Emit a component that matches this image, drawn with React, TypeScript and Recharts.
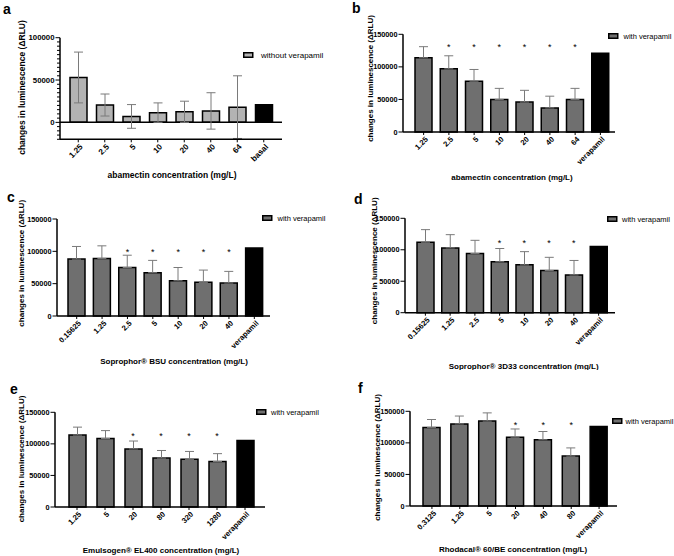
import React from "react";
import { BarChart, Bar, XAxis, YAxis, ErrorBar, Cell, ReferenceLine, ReferenceDot, Legend } from "recharts";

const FONT = "Liberation Sans, Arial, sans-serif";

// panel a
const catsA = ["1.25", "2.5", "5", "10", "20", "40", "64", "basal"];
const meanA = [53000, 20500, 7000, 11500, 12500, 13500, 18000, 20800];
const errA = [30000, 13000, 14000, 11500, 12500, 21500, 37000, null];
const starA = [true, false, false, false, false, false, false, false];
const ticksA = [-20000, -15000, -10000, -5000, 0, 5000, 10000, 15000, 20000, 25000, 30000, 35000, 40000, 45000, 50000, 55000, 60000, 65000, 70000, 75000, 80000, 85000, 90000, 95000, 100000];
const majorA = [0, 50000, 100000];

// panel b
const catsB = ["1.25", "2.5", "5", "10", "20", "40", "64", "verapamil"];
const meanB = [114000, 97000, 78000, 50000, 46000, 37000, 50000, 121000];
const errB = [17000, 20000, 18000, 17000, 18000, 18000, 17000, null];
const starB = [false, true, true, true, true, true, true, false];

// panel c
const catsC = ["0.15625", "1.25", "2.5", "5", "10", "20", "40", "verapamil"];
const meanC = [88000, 89000, 75000, 67000, 54500, 52000, 51000, 105000];
const errC = [19500, 19500, 19000, 19000, 20500, 19000, 18000, null];
const starC = [false, false, true, true, true, true, true, false];

// panel d
const catsD = ["0.15625", "1.25", "2.5", "5", "10", "20", "40", "verapamil"];
const meanD = [112000, 103000, 94000, 81000, 76000, 67000, 60000, 105000];
const errD = [20000, 21000, 21000, 21000, 21000, 21000, 23000, null];
const starD = [false, false, false, true, true, true, true, false];

// panel e
const catsE = ["1.25", "5", "20", "80", "320", "1280", "verapamil"];
const meanE = [114000, 108500, 92000, 77500, 75500, 72000, 105500];
const errE = [12500, 12500, 12500, 12000, 12500, 12500, null];
const starE = [false, false, true, true, true, true, false];

// panel f
const catsF = ["0.3125", "1.25", "5", "20", "40", "80", "verapamil"];
const meanF = [124500, 130000, 134500, 109000, 105000, 79000, 126000];
const errF = [12500, 12500, 13000, 13000, 13000, 13000, null];
const starF = [false, false, false, true, true, true, false];

const ticksBF = [0, 50000, 100000, 150000];
const yLabel = "changes in luminescence (\u0394RLU)";

type PanelProps = {
  cats: string[];
  means: number[];
  errs: (number | null)[];
  stars: boolean[];
  starLevel: number;
  symmetric: boolean;
  domain: [number, number];
  ticks: number[];
  majors: number[];
  L: number; T: number; W: number; H: number;
  x0: number; x1: number; y0: number; y1: number;
  padL: number; padR: number;
  fill: string;
  fs: number;
  xTitle: string; titleX: number; titleY: number;
  labelX: number; labelY: number;
  legendText: string; legX: number; legY: number; legTextX: number;
  zeroLine?: boolean;
};

function Panel(p: PanelProps) {
  const rows = p.cats.map((c, i) => ({
    cat: c,
    mean: p.means[i],
    err: p.errs[i] == null ? null : p.symmetric ? p.errs[i] : [0, p.errs[i]],
  }));
  const axisX = p.x0 - p.L;
  const tickFs = p.fs - 0.7;

  const yTick = (t: any) => {
    const v = t.payload.value;
    const y = t.payload.coordinate ?? t.y;
    const major = p.majors.includes(v);
    return (
      <g>
        <line x1={axisX - (major ? 4.5 : 3)} x2={axisX} y1={y} y2={y} stroke="#000" strokeWidth={1} />
        {major && (
          <text x={axisX - 5.5} y={y} dy="0.35em" textAnchor="end" fontSize={tickFs} fontWeight="bold" fontFamily={FONT} fill="#000">
            {v}
          </text>
        )}
      </g>
    );
  };

  return (
    <div style={{ position: "absolute", left: p.L, top: p.T }}>
      <BarChart
        width={p.W}
        height={p.H}
        data={rows}
        margin={{ top: p.y0 - p.T, right: p.L + p.W - p.x1, bottom: 0, left: 0 }}
      >
        <XAxis
          dataKey="cat"
          type="category"
          interval={0}
          height={p.T + p.H - p.y1}
          padding={{ left: p.padL, right: p.padR }}
          axisLine={{ stroke: "#000", strokeWidth: 1.5 }}
          tickLine={{ stroke: "#000", strokeWidth: 1 }}
          tickSize={3}
          tickMargin={1}
          angle={-45}
          textAnchor="end"
          tick={{ fontSize: tickFs + 0.3, fontWeight: "bold", fontFamily: FONT, fill: "#000", textAnchor: "end", dx: 1 }}
          label={{
            content: () => (
              <text x={p.titleX - p.L} y={p.titleY - p.T} textAnchor="middle" fontSize={p.fs} fontWeight="bold" fontFamily={FONT} fill="#000">
                {p.xTitle}
              </text>
            ),
          }}
        />
        <YAxis
          type="number"
          width={axisX}
          domain={p.domain}
          ticks={p.ticks}
          interval={0}
          axisLine={{ stroke: "#000", strokeWidth: 1.5 }}
          tickLine={false}
          tick={yTick}
          label={{
            content: () => (
              <text
                x={p.labelX - p.L}
                y={p.labelY - p.T}
                textAnchor="middle"
                dominantBaseline="central"
                transform={`rotate(-90 ${p.labelX - p.L} ${p.labelY - p.T})`}
                fontSize={p.fs}
                fontWeight="bold"
                fontFamily={FONT}
                fill="#000"
              >
                {yLabel}
              </text>
            ),
          }}
        />
        {p.zeroLine && <ReferenceLine y={0} stroke="#000" strokeWidth={1.5} />}
        <Bar dataKey="mean" barSize={17} fill={p.fill} stroke="#000" strokeWidth={1.5} isAnimationActive={false}>
          {rows.map((r, i) => (
            <Cell key={r.cat} fill={i === rows.length - 1 ? "#000" : p.fill} />
          ))}
          <ErrorBar dataKey="err" direction="y" width={4.5} stroke="#7a7a7a" strokeWidth={1} />
        </Bar>
        {p.cats.map((c, i) =>
          p.stars[i] ? (
            <ReferenceDot
              key={c}
              x={c}
              y={p.starLevel}
              r={0}
              shape={(s: any) => (
                <text x={s.cx} y={s.cy} dy="0.6em" textAnchor="middle" fontSize={9} fontFamily={FONT} fill="#000">
                  *
                </text>
              )}
            />
          ) : null
        )}
        <Legend
          layout="vertical"
          align="center"
          verticalAlign="middle"
          wrapperStyle={{ left: p.legX - p.L, top: p.legY - p.T - 6, width: 110 }}
          content={() => (
            <svg width={110} height={12}>
              <rect x={0.75} y={3.75} width={9} height={4.5} fill={p.fill} stroke="#000" strokeWidth={1.5} />
              <text x={p.legTextX - p.legX} y={8.6} fontSize={p.fs - 0.5} fontFamily={FONT} fill="#000">
                {p.legendText}
              </text>
            </svg>
          )}
        />
      </BarChart>
    </div>
  );
}

const letters = [
  { t: "a", x: 3, y: 13.5 },
  { t: "b", x: 352, y: 13 },
  { t: "c", x: 7, y: 201.5 },
  { t: "d", x: 354, y: 204 },
  { t: "e", x: 10, y: 393.5 },
  { t: "f", x: 358, y: 393 },
];

export default function App() {
  const light = "#b3b3b3";
  const dark = "#6f6f6f";
  return (
    <div style={{ position: "absolute", left: 0, top: 0, width: 674, height: 556, background: "#fff", overflow: "hidden" }}>
      <Panel
        cats={catsA} means={meanA} errs={errA} stars={starA} starLevel={105500} symmetric
        domain={[-20000, 100000]} ticks={ticksA} majors={majorA}
        L={0} T={0} W={337} H={185} x0={60} x1={282} y0={37.7} y1={139.3} padL={5} padR={5}
        fill={light} fs={8.5} xTitle="abamectin concentration (mg/L)" titleX={172} titleY={177.5}
        labelX={22} labelY={87.5} legendText="without verapamil" legX={243} legY={52.5} legTextX={261} zeroLine
      />
      <Panel
        cats={catsB} means={meanB} errs={errB} stars={starB} starLevel={134500} symmetric={false}
        domain={[0, 150000]} ticks={ticksBF} majors={ticksBF}
        L={337} T={0} W={337} H={185} x0={403} x1={615} y0={34.3} y1={132} padL={8} padR={2}
        fill={dark} fs={8} xTitle="abamectin concentration (mg/L)" titleX={512} titleY={180}
        labelX={370} labelY={78.5} legendText="with verapamil" legX={608} legY={33.5} legTextX={623.5}
      />
      <Panel
        cats={catsC} means={meanC} errs={errC} stars={starC} starLevel={103000} symmetric={false}
        domain={[0, 150000]} ticks={ticksBF} majors={ticksBF}
        L={0} T={185} W={337} H={185} x0={57} x1={270} y0={219} y1={316} padL={7} padR={3}
        fill={dark} fs={8} xTitle={"Soprophor\u00ae BSU concentration (mg/L)"} titleX={174} titleY={363.5}
        labelX={21.7} labelY={263.3} legendText="with verapamil" legX={262} legY={216} legTextX={277.5}
      />
      <Panel
        cats={catsD} means={meanD} errs={errD} stars={starD} starLevel={115000} symmetric={false}
        domain={[0, 150000]} ticks={ticksBF} majors={ticksBF}
        L={337} T={185} W={337} H={185} x0={405} x1={615} y0={218.3} y1={312.7} padL={8} padR={4}
        fill={dark} fs={8} xTitle={"Soprophor\u00ae 3D33 concentration (mg/L)"} titleX={523.7} titleY={368.5}
        labelX={375} labelY={260.8} legendText="with verapamil" legX={607} legY={216.5} legTextX={622}
      />
      <Panel
        cats={catsE} means={meanE} errs={errE} stars={starE} starLevel={115500} symmetric={false}
        domain={[0, 150000]} ticks={ticksBF} majors={ticksBF}
        L={0} T={370} W={337} H={186} x0={55} x1={265} y0={412.3} y1={507} padL={8} padR={6}
        fill={dark} fs={8} xTitle={"Emulsogen\u00ae EL400 concentration (mg/L)"} titleX={161} titleY={553}
        labelX={21.7} labelY={459} legendText="with verapamil" legX={256} legY={410} legTextX={271}
      />
      <Panel
        cats={catsF} means={meanF} errs={errF} stars={starF} starLevel={132500} symmetric={false}
        domain={[0, 150000]} ticks={ticksBF} majors={ticksBF}
        L={337} T={370} W={337} H={186} x0={410} x1={617} y0={411.3} y1={506} padL={8} padR={4}
        fill={dark} fs={8} xTitle={"Rhodacal\u00ae 60/BE concentration (mg/L)"} titleX={513} titleY={552}
        labelX={377} labelY={457.5} legendText="with verapamil" legX={612} legY={418.5} legTextX={625.5}
      />
      <svg width={674} height={556} style={{ position: "absolute", left: 0, top: 0, pointerEvents: "none" }}>
        {letters.map((l) => (
          <text key={l.t} x={l.x} y={l.y} fontSize={14} fontWeight="bold" fontFamily={FONT} fill="#000">
            {l.t}
          </text>
        ))}
      </svg>
    </div>
  );
}
